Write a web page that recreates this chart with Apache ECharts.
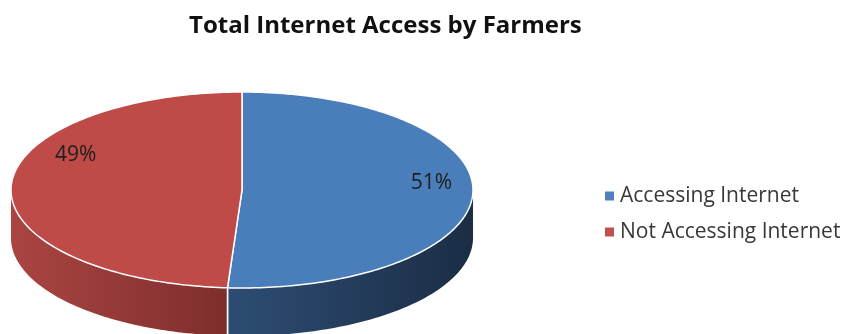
<!DOCTYPE html>
<html><head><meta charset="utf-8">
<script src="https://cdn.jsdelivr.net/npm/echarts@6/dist/echarts.min.js"></script>
<style>html,body{margin:0;padding:0;background:#fff}#c{width:848px;height:334px}</style>
</head><body><div id="c"></div>
<script>
const titleText = 'Total Internet Access by Farmers';
const categories = ['Accessing Internet', 'Not Accessing Internet'];
const values = [51, 49];
const labels = ['51%', '49%'];

const topColors = ['#4A7EBB', '#BE4B48'];
const wallColors = [['#2D4D74', '#1B2D45'], ['#AA4542', '#7E2E2C']];
const legendColors = ['#4F81BD', '#C0504D'];
const labelRadius = [0.82, 0.72];
const labelLift = [-10, -33];

const CX = 242, CY = 190, RX = 231, RY = 98, DEPTH = 48;
const total = values.reduce((a, b) => a + b, 0);
let acc = 0;
const slices = values.map(v => { const s = acc; acc += v; return [s, acc]; });

function pt(t, dy) { return [CX + RX * Math.sin(t), CY - RY * Math.cos(t) + (dy || 0)]; }
function arc(a, b, dy) {
  const n = Math.max(2, Math.ceil(Math.abs(b - a) / 0.02));
  const pts = [];
  for (let i = 0; i <= n; i++) pts.push(pt(a + (b - a) * i / n, dy));
  return pts;
}

function makeRender(idx) {
  return function (params, api) {
    const a = api.value(0) / total * 2 * Math.PI;
    const b = api.value(1) / total * 2 * Math.PI;
    const children = [];
    const wa = Math.max(a, Math.PI / 2), wb = Math.min(b, 3 * Math.PI / 2);
    if (wb > wa) {
      const top = arc(wa, wb, 0), bot = arc(wb, wa, DEPTH);
      const xs = top.map(p => p[0]);
      const x0 = Math.min(...xs), x1 = Math.max(...xs);
      children.push({
        type: 'polygon', shape: { points: top.concat(bot) },
        style: {
          fill: { type: 'linear', x: x0, y: 0, x2: x1, y2: 0, global: true,
            colorStops: [{ offset: 0, color: wallColors[idx][0] }, { offset: 1, color: wallColors[idx][1] }] },
          stroke: null
        }
      });
      [a, b].forEach(t => {
        if (t > Math.PI / 2 && t < 3 * Math.PI / 2) {
          const p0 = pt(t, 0), p1 = pt(t, DEPTH);
          children.push({ type: 'line', shape: { x1: p0[0], y1: p0[1], x2: p1[0], y2: p1[1] },
            style: { stroke: '#fff', lineWidth: 1.5 } });
        }
      });
    }
    const face = [[CX, CY]].concat(arc(a, b, 0));
    children.push({ type: 'polygon', shape: { points: face },
      style: { fill: topColors[idx], stroke: '#fff', lineWidth: 1.5, lineJoin: 'round' } });
    const m = (a + b) / 2;
    const k = labelRadius[idx];
    children.push({ type: 'text',
      style: { text: labels[idx], x: CX + RX * k * Math.sin(m), y: CY - RY * k * Math.cos(m) + labelLift[idx],
        align: 'center', verticalAlign: 'middle', fill: '#1E1E1E',
        font: '21px "Open Sans", sans-serif' } });
    return { type: 'group', children: children };
  };
}

const chart = echarts.init(document.getElementById('c'), null, { renderer: 'canvas' });
chart.setOption({
  animation: false,
  backgroundColor: '#fff',
  title: {
    text: titleText, left: 184, top: 9,
    textStyle: { fontFamily: 'Open Sans', fontWeight: 'bold', fontSize: 24, color: '#111' }
  },
  legend: {
    orient: 'vertical', left: 600, top: 180, itemWidth: 9, itemHeight: 9, itemGap: 14,
    icon: 'rect',
    data: categories,
    textStyle: { fontFamily: 'Open Sans', fontSize: 21, color: '#383838', padding: [0, 0, 0, 1], lineHeight: 22 }
  },
  series: categories.map((name, i) => ({
    type: 'custom', name: name, coordinateSystem: 'none', silent: true,
    itemStyle: { color: legendColors[i] },
    renderItem: makeRender(i),
    data: [slices[i]]
  }))
});
</script></body></html>
